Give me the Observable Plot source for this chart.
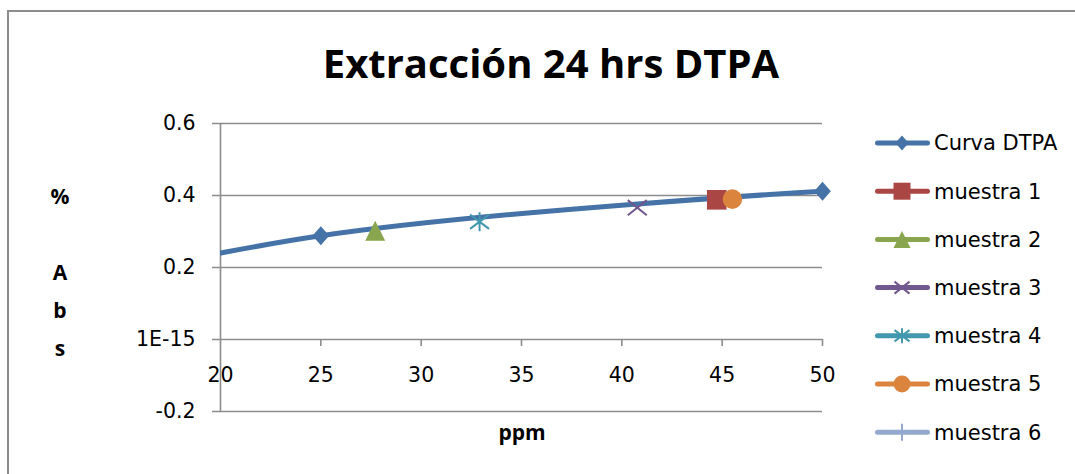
<!DOCTYPE html>
<html>
<head>
<meta charset="utf-8">
<script src="https://cdn.jsdelivr.net/npm/d3@7"></script>
<script src="https://cdn.jsdelivr.net/npm/@observablehq/plot@0.6"></script>
<style>
  html, body { margin: 0; padding: 0; background: #fff; }
  #chart svg { display: block; }
</style>
</head>
<body>
<div id="chart"></div>
<script>
// Calibration curve: concentration (ppm) vs absorbance
const curvePpm = [0, 25, 50];
const curveAbs = [0, 0.288, 0.412];

// Sample readings placed on the curve
const sampleNames = ["muestra 1", "muestra 2", "muestra 3", "muestra 4", "muestra 5", "muestra 6"];
const samplePpm = [44.73, 27.71, 40.77, 32.91, 45.51, null];
const sampleAbs = [0.388, 0.302, 0.366, 0.327, 0.390, null];

// Axis ticks and their labels
const xTicks = [20, 25, 30, 35, 40, 45, 50];
const yTicks = [-0.2, 0, 0.2, 0.4, 0.6];
const yTickLabels = ["-0.2", "1E-15", "0.2", "0.4", "0.6"];

// Series styling
const seriesNames = ["Curva DTPA", ...sampleNames];
const seriesColors = ["#4572A7", "#AA4643", "#89A54E", "#71588F", "#4198AF", "#DB843D", "#93A9CF"];
const seriesMarkers = ["diamond", "square", "triangle", "x", "star", "circle", "plus"];

const titleText = "Extracción 24 hrs DTPA";
const xTitle = "ppm";
const yTitleLines = ["%", "", "A", "b", "s"];

// Marker shapes; the half-extent h follows from size = π r²
const half = (size) => Math.sqrt(size / Math.PI);
const markerShapes = {
  diamond: { draw(c, s) { const h = half(s); c.moveTo(0, -h); c.lineTo(h * 0.88, 0); c.lineTo(0, h); c.lineTo(-h * 0.88, 0); c.closePath(); } },
  square: { draw(c, s) { const h = half(s); c.rect(-h, -h, 2 * h, 2 * h); } },
  triangle: { draw(c, s) { const h = half(s); c.moveTo(0, -h); c.lineTo(h, h); c.lineTo(-h, h); c.closePath(); } },
  x: { draw(c, s) { const h = half(s); c.moveTo(-h, -h * 0.8); c.lineTo(h, h * 0.8); c.moveTo(-h, h * 0.8); c.lineTo(h, -h * 0.8); } },
  star: { draw(c, s) { const h = half(s); c.moveTo(0, -h); c.lineTo(0, h); c.moveTo(-h, -h * 0.75); c.lineTo(h, h * 0.75); c.moveTo(-h, h * 0.75); c.lineTo(h, -h * 0.75); } },
  circle: { draw(c, s) { const h = half(s); c.moveTo(h, 0); c.arc(0, 0, h, 0, 2 * Math.PI); } },
  plus: { draw(c, s) { const h = half(s); c.moveTo(0, -h); c.lineTo(0, h); c.moveTo(-h, 0); c.lineTo(h, 0); } }
};
const filledMarkers = new Set(["diamond", "square", "triangle", "circle"]);
const plotMarkerR = { diamond: 9.5, square: 9.8, triangle: 10, x: 9.5, star: 9.5, circle: 9.8, plus: 9 };
const legendMarkerR = { diamond: 7.5, square: 8.5, triangle: 8.5, x: 7.5, star: 7.5, circle: 8.5, plus: 8.5 };

const curveData = curvePpm.map((ppm, i) => ({ ppm, abs: curveAbs[i] }));
const samples = sampleNames
  .map((name, i) => ({ name, ppm: samplePpm[i], abs: sampleAbs[i], color: seriesColors[i + 1], marker: seriesMarkers[i + 1] }))
  .filter((d) => d.ppm != null);

const gridColor = "#8c8c8c";

const chart = Plot.plot({
  width: 1075,
  height: 474,
  marginLeft: 220,
  marginRight: 253,
  marginTop: 123,
  marginBottom: 63,
  x: { domain: [20, 50], axis: null },
  y: { domain: [-0.2, 0.6], axis: null },
  style: { fontFamily: "'DejaVu Sans', sans-serif", fontSize: "20.5px", color: "#000", background: "#fff" },
  marks: [
    // horizontal gridlines with short outward ticks
    Plot.ruleY(yTicks, { y: (d) => d, stroke: gridColor, strokeWidth: 1.6, insetLeft: -8 }),
    // vertical axis line
    Plot.ruleX([20], { x: (d) => d, stroke: gridColor, strokeWidth: 1.6 }),
    // x ticks hanging below the zero line
    Plot.ruleX(xTicks.slice(1), { x: (d) => d, y1: 0, y2: 0, insetBottom: -7, stroke: gridColor, strokeWidth: 1.6 }),
    Plot.text(yTicks, { y: (d) => d, text: (d, i) => yTickLabels[i], frameAnchor: "left", textAnchor: "end", dx: -25, fill: "#000", fontSize: 20.5 }),
    Plot.text(xTicks, { x: (d) => d, y: 0, text: (d) => String(d), dy: 36, fill: "#000", fontSize: 20.5 }),
    // smoothed calibration curve
    Plot.line(curveData, { x: "ppm", y: "abs", curve: "cardinal", tension: 0, stroke: seriesColors[0], strokeWidth: 5, strokeLinecap: "round", clip: true }),
    Plot.dot(curveData, { filter: (d) => d.ppm >= 20, x: "ppm", y: "abs", symbol: markerShapes.diamond, r: plotMarkerR.diamond, fill: seriesColors[0], stroke: "none" }),
    // sample points
    ...samples.map((d) => Plot.dot([d], {
      x: "ppm", y: "abs",
      symbol: markerShapes[d.marker],
      r: plotMarkerR[d.marker],
      fill: filledMarkers.has(d.marker) ? d.color : "none",
      stroke: filledMarkers.has(d.marker) ? "none" : d.color,
      strokeWidth: 2
    }))
  ]
});

const svg = d3.select(chart);

// chart area border (top and left edges)
svg.append("path")
  .attr("d", "M8,474V11H1075")
  .attr("fill", "none")
  .attr("stroke", gridColor)
  .attr("stroke-width", 2);

// title
svg.append("text")
  .attr("x", 551).attr("y", 78)
  .attr("text-anchor", "middle")
  .style("font-family", "'Open Sans', sans-serif")
  .style("font-weight", "bold")
  .style("font-size", "40px")
  .text(titleText);

// axis titles
svg.append("text")
  .attr("x", 522).attr("y", 433).attr("dy", "0.35em")
  .attr("text-anchor", "middle")
  .style("font-family", "'Open Sans', sans-serif")
  .style("font-weight", "bold")
  .style("font-size", "21px")
  .text(xTitle);

const yTitle = svg.append("text")
  .attr("text-anchor", "middle")
  .style("font-family", "'Open Sans', sans-serif")
  .style("font-weight", "bold")
  .style("font-size", "21px");
yTitleLines.forEach((t, i) => {
  yTitle.append("tspan").attr("x", 60).attr("y", 197 + i * 37.8).attr("dy", "0.35em").text(t || "\u00a0");
});

// legend
const legend = svg.append("g");
seriesNames.forEach((name, i) => {
  const y = 143 + i * 48.2;
  const color = seriesColors[i];
  const m = seriesMarkers[i];
  const g = legend.append("g").attr("transform", `translate(0,${y})`);
  g.append("line")
    .attr("x1", 877.5).attr("x2", 927.5)
    .attr("stroke", color).attr("stroke-width", 5).attr("stroke-linecap", "round");
  const r = legendMarkerR[m];
  g.append("path")
    .attr("transform", "translate(902,0)")
    .attr("d", d3.symbol(markerShapes[m], Math.PI * r * r)())
    .attr("fill", filledMarkers.has(m) ? color : "none")
    .attr("stroke", filledMarkers.has(m) ? "none" : color)
    .attr("stroke-width", 2);
  g.append("text")
    .attr("x", 934).attr("dy", "0.35em")
    .attr("text-anchor", "start")
    .style("font-size", "21px")
    .text(name);
});

document.getElementById("chart").appendChild(chart);
</script>
</body>
</html>
